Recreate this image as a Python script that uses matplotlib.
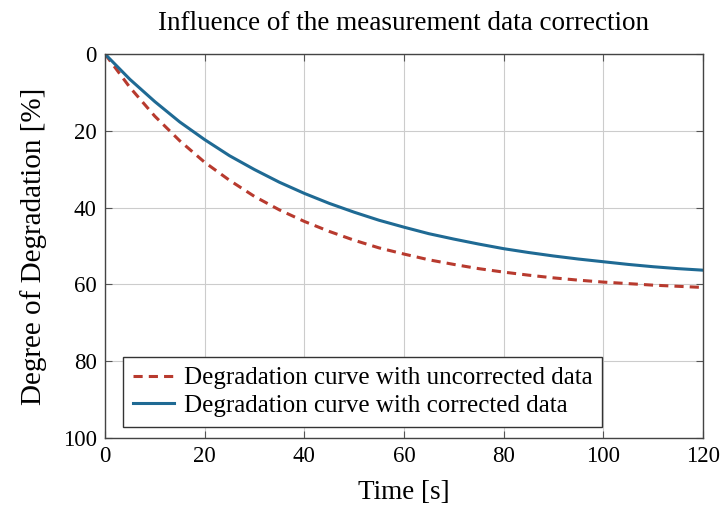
import matplotlib.pyplot as plt
import numpy as np

plt.rcParams['font.family'] = ['Liberation Serif', 'DejaVu Serif']
plt.rcParams['mathtext.fontset'] = 'stix'

time_s = [0, 5, 10, 15, 20, 25, 30, 35, 40, 45, 50, 55, 60,
          65, 70, 75, 80, 85, 90, 95, 100, 105, 110, 115, 120]
uncorrected = [0, 8.7, 16.2, 22.6, 28.2, 32.9, 37.1, 40.6, 43.6, 46.2, 48.5, 50.5, 52.1,
               53.6, 54.8, 55.9, 56.8, 57.6, 58.3, 58.9, 59.4, 59.8, 60.2, 60.5, 60.8]
corrected = [0, 6.6, 12.4, 17.7, 22.3, 26.5, 30.1, 33.4, 36.3, 38.9, 41.2, 43.3, 45.1,
             46.8, 48.2, 49.5, 50.7, 51.7, 52.6, 53.4, 54.1, 54.8, 55.4, 55.9, 56.3]

fig = plt.figure(figsize=(7.21, 5.05), dpi=100)
ax = fig.add_axes([0.1456, 0.1327, 0.8294, 0.7604])

ax.plot(time_s, uncorrected, color='#b83a2e', linestyle=(0, (3, 2)), linewidth=2.2,
        label='Degradation curve with uncorrected data')
ax.plot(time_s, corrected, color='#1f6a94', linewidth=2.2,
        label='Degradation curve with corrected data')

ax.set_xlim(0, 120)
ax.set_ylim(100, 0)
ax.set_xticks(np.arange(0, 121, 20))
ax.set_yticks(np.arange(0, 101, 20))
ax.grid(True, color='#cccccc', linewidth=0.8)
ax.tick_params(direction='in', top=True, right=True, labelsize=16.5, length=5,
               color='#555555', pad=6)
for s in ax.spines.values():
    s.set_color('#444444')
    s.set_linewidth(1.0)

ax.set_xlabel('Time [s]', fontsize=19.5, labelpad=9)
ax.set_ylabel('Degree of Degradation [%]', fontsize=21, labelpad=11)
ax.set_title('Influence of the measurement data correction', fontsize=19.5, pad=17)

leg = ax.legend(loc='lower left', bbox_to_anchor=(0.03, 0.029), borderaxespad=0,
                fontsize=18, fancybox=False, edgecolor='#333333', framealpha=1,
                handlelength=1.65, handletextpad=0.38, borderpad=0.4, labelspacing=0.2)
leg.get_frame().set_linewidth(1.0)

fig.savefig('out.png', dpi=100)
